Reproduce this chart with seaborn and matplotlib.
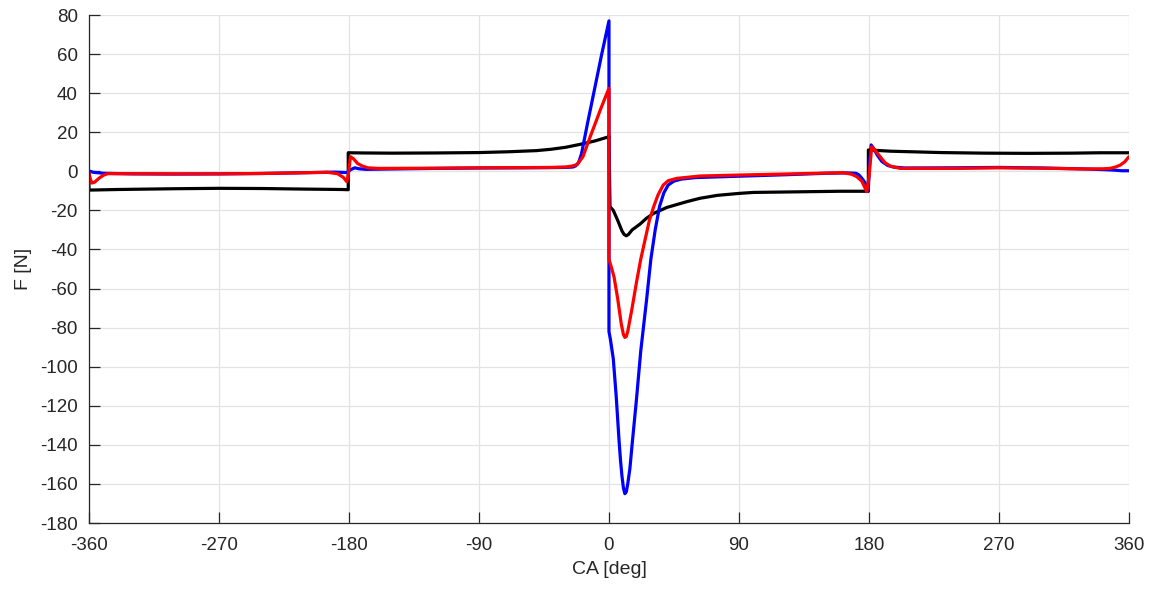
import matplotlib
matplotlib.use("Agg")
import matplotlib.pyplot as plt
import numpy as np
import pandas as pd
import seaborn as sns

# Data (crank angle in deg, force in N)
blue_ca = [-360, -357, -350, -330, -300, -270, -240, -210, -190, -182, -180.5, -179, -176, -173, -168,
           -150, -120, -90, -60, -40, -30, -25, -23, -21, -19, -15, -10, -5, 0,
           0, 1, 3, 5, 7, 8, 9, 10, 11, 12, 13, 14.5, 16, 19, 22, 26, 29, 32, 35, 38, 41, 45, 50, 60,
           90, 120, 150, 165, 171, 173, 175, 177, 178, 179.5, 180.5, 181.5, 183, 186, 189, 193, 197,
           205, 240, 270, 300, 330, 345, 350, 355, 360]
blue_f = [0.2, -0.5, -1.0, -1.3, -1.4, -1.3, -1.1, -0.7, -0.4, -0.6, -0.3, 0.8, 1.8, 1.3, 1.0,
          1.2, 1.5, 1.7, 1.8, 1.9, 2.0, 2.2, 2.8, 4.5, 9, 24, 42, 60, 77,
          -82, -86, -96, -115, -138, -148, -156, -162, -165, -164, -160, -152, -140, -117, -92, -66, -45, -30, -18, -11, -7, -5, -4, -3.2,
          -2.5, -1.8, -1.0, -0.8, -1.0, -1.8, -3.5, -5.5, -7, -10, 5, 13.5, 12, 8, 5, 3, 2.2,
          1.7, 1.8, 2.0, 1.7, 1.2, 0.8, 0.6, 0.3, 0.3]

red_ca = [-360, -359, -358, -356, -353, -350, -347, -330, -300, -270, -240, -210, -195, -188, -184,
          -181.5, -180.5, -179, -177, -174, -171, -167, -160, -120, -90, -60, -40, -30, -25, -22,
          -18, -13, -10, -6, -3, 0,
          0, 2, 3.5, 6, 8.5, 10, 11, 12, 13, 16, 19, 22, 25, 28, 31, 34, 37.6, 41, 47, 55, 63,
          90, 120, 150, 162, 168, 171.5, 175, 178.5, 180, 181.9, 184, 187.7, 191, 194.6, 201.5,
          240, 270, 300, 330, 342, 347, 351, 354, 357, 360]
red_f = [-0.7, -4, -6, -5.5, -3.5, -2, -1.2, -1.2, -1.3, -1.3, -1.1, -0.7, -0.5, -1.2, -3,
         -5.3, -2, 7.5, 6.5, 4, 2.8, 1.8, 1.5, 1.6, 1.8, 1.9, 2.0, 2.2, 2.8, 3.5,
         7.5, 17.7, 23.5, 31.4, 37, 42.5,
         -45, -50, -54, -65, -78, -83.5, -85, -84.5, -82, -70, -57, -45, -35, -25, -18, -12, -7, -4.8, -3.6, -3, -2.4,
         -1.9, -1.4, -0.9, -0.7, -1.5, -2.7, -5, -10.4, -3, 12.6, 11, 7.5, 4.5, 2.7, 1.5,
         1.5, 1.8, 1.6, 1.2, 1.3, 1.5, 2.3, 3.2, 4.8, 7.5]

black_ca = [-360, -360, -340, -300, -270, -240, -210, -185, -180.5,
            -180.5, -170, -150, -120, -90, -70, -50, -40, -30, -20, -10, 0,
            0, 0.7, 3, 6, 9, 10.5, 12, 13.5, 16, 21.5, 26, 31, 40, 54, 63, 75, 90, 100, 130, 160, 179.6,
            179.6, 183, 195, 230, 260, 290, 320, 340, 360]
black_f = [-1, -9.6, -9.3, -8.9, -8.7, -8.8, -9.1, -9.3, -9.4,
           9.5, 9.4, 9.3, 9.4, 9.6, 10.0, 10.6, 11.3, 12.3, 13.8, 15.5, 17.7,
           18, -18.1, -20, -25, -30.5, -32.3, -33, -32.3, -30, -27, -24, -21.5, -18.5, -15.5, -13.8, -12.3, -11.3, -10.8, -10.5, -10.2, -10.2,
           10.9, 10.8, 10.3, 9.6, 9.3, 9.2, 9.3, 9.5, 9.5]

x_ticks = [-360, -270, -180, -90, 0, 90, 180, 270, 360]
y_ticks = list(range(-180, 81, 20))

sns.set_style("ticks")
plt.rcParams['font.family'] = ['Liberation Sans', 'DejaVu Sans']
plt.rcParams['axes.unicode_minus'] = False

fig = plt.figure(figsize=(11.54, 5.91), dpi=100)
ax = fig.add_axes([0.0771, 0.115, 0.9012, 0.8596])

# black first, then blue, red on top (as in the reference)
for ca, f, c in [(black_ca, black_f, 'black'), (blue_ca, blue_f, 'blue'), (red_ca, red_f, 'red')]:
    df = pd.DataFrame({'CA': ca, 'F': f})
    sns.lineplot(data=df, x='CA', y='F', sort=False, estimator=None, color=c, linewidth=2.3, ax=ax)

ax.set_xlim(-360, 360)
ax.set_ylim(-180, 80)
ax.set_xticks(x_ticks)
ax.set_yticks(y_ticks)
ax.grid(True, color='#e3e3e3', linewidth=0.9)
ax.set_axisbelow(True)
for s in ['top', 'right']:
    ax.spines[s].set_visible(False)
for s in ['left', 'bottom']:
    ax.spines[s].set_color('#262626')
    ax.spines[s].set_linewidth(0.9)
ax.tick_params(direction='in', length=8, width=0.9, colors='#262626', labelsize=13.5)
ax.tick_params(axis='x', pad=10)
ax.tick_params(axis='y', pad=8)
ax.set_xlabel('CA [deg]', fontsize=14, color='#262626', labelpad=5)
ax.set_ylabel('F [N]', fontsize=14, color='#262626', labelpad=6)

fig.savefig('out.png', dpi=100)
